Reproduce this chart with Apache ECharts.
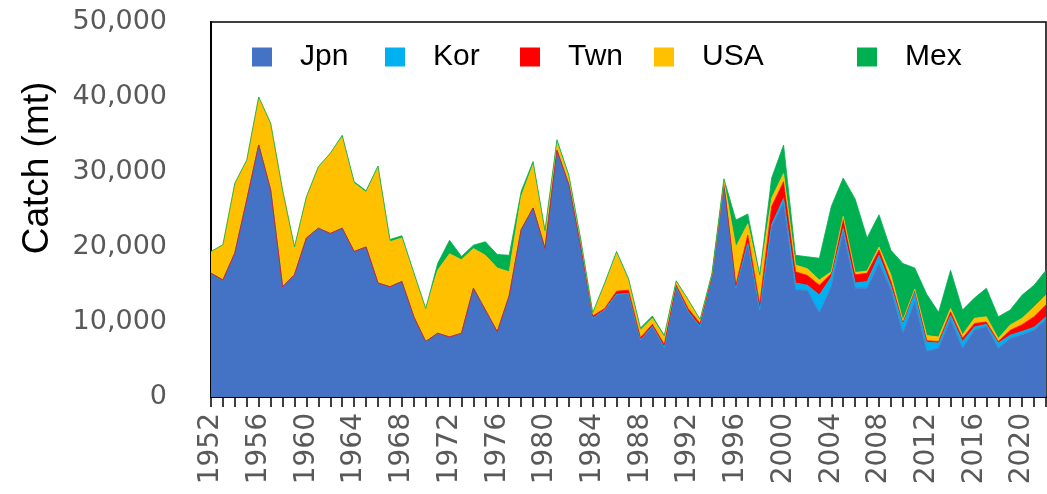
<!DOCTYPE html>
<html>
<head>
    <meta charset="utf-8">
    <title>Catch by fleet</title>
    <script src="https://cdn.jsdelivr.net/npm/echarts@6/dist/echarts.min.js"></script>
    <style>
        html, body { margin: 0; padding: 0; background: #fff; }
        #chart { width: 1047px; height: 494px; }
    </style>
</head>
<body>
<div id="chart"></div>
<script>
// years 1952 - 2022
var years = [];
for (var y = 1952; y <= 2022; y++) years.push(String(y));

// catch in metric tons
var jpn = [16500, 15600, 19200, 26300, 33600, 27600, 14700, 16300, 21200, 22500,
           21800, 22500, 19400, 20000, 15200, 14700, 15400, 10700, 7400, 8500,
           8000, 8500, 14500, 11600, 8700, 13500, 22300, 25200, 19800, 32900,
           28300, 20000, 10500, 11600, 13600, 13800, 7600, 9400, 6600, 14700,
           11400, 9400, 16000, 28300, 14500, 20500, 11600, 22700, 25800, 14300,
           14200, 11200, 14700, 22000, 14500, 14500, 17800, 14300, 8500, 12700,
           6100, 6500, 10300, 6500, 8900, 9400, 6500, 7800, 8300, 8900,
           10300];
var kor = [0, 0, 0, 0, 0, 0, 0, 0, 0, 0,
           0, 0, 0, 0, 0, 0, 0, 0, 0, 0,
           0, 0, 0, 0, 0, 0, 0, 0, 0, 0,
           0, 0, 0, 0, 100, 0, 0, 0, 0, 0,
           0, 0, 0, 0, 0, 0, 0, 300, 700, 900,
           700, 2400, 1300, 500, 700, 900, 1100, 500, 1300, 1300,
           1200, 700, 600, 900, 450, 300, 700, 450, 450, 400,
           400];
var twn = [0, 0, 0, 0, 0, 0, 0, 0, 0, 0,
           0, 0, 0, 0, 0, 0, 0, 0, 0, 0,
           0, 0, 0, 0, 0, 0, 0, 0, 0, 0,
           0, 0, 300, 200, 400, 450, 300, 300, 400, 200,
           400, 400, 100, 100, 400, 1100, 700, 2400, 2200, 1500,
           1300, 1300, 450, 1300, 1100, 1100, 700, 600, 200, 200,
           200, 200, 450, 450, 450, 300, 200, 650, 900, 1400,
           1600];
var usa = [2900, 4700, 9300, 5300, 6400, 8900, 12900, 3700, 5500, 8200,
           10700, 12200, 9100, 7300, 15500, 6000, 5800, 5800, 4400, 8400,
           11100, 9800, 5300, 7300, 8500, 3200, 4400, 5800, 2200, 1100,
           1100, 800, 350, 3200, 5100, 1350, 1000, 800, 1000, 500,
           1100, 450, 300, 400, 5100, 1500, 3700, 1100, 1100, 900,
           900, 700, 250, 300, 300, 300, 400, 870, 200, 200,
           700, 600, 450, 450, 700, 700, 400, 700, 850, 1300,
           1300];
var mex = [0, 0, 0, 0, 0, 0, 0, 0, 0, 0,
           0, 200, 200, 200, 100, 300, 300, 100, 0, 900,
           1800, 450, 450, 1800, 1800, 2200, 700, 400, 200, 300,
           200, 200, 100, 200, 200, 200, 300, 300, 200, 100,
           100, 100, 100, 300, 3600, 1300, 300, 2700, 3800, 1300,
           1600, 2900, 8700, 5100, 9800, 4400, 4300, 3300, 7600, 2800,
           5500, 3300, 5100, 3300, 2700, 3800, 2900, 2000, 3100, 2900,
           3300];

var yTicks = [0, 10000, 20000, 30000, 40000, 50000];

var names = ['Jpn', 'Kor', 'Twn', 'USA', 'Mex'];
var colors = ['#4472C4', '#00B0F0', '#FF0000', '#FFC000', '#00B050'];
var values = [jpn, kor, twn, usa, mex];
var legendLeft = [252, 385, 520, 654, 857];

var chart = echarts.init(document.getElementById('chart'));

var series = names.map(function (n, i) {
    return {
        name: n,
        type: 'line',
        stack: 'catch',
        data: values[i],
        symbol: 'none',
        lineStyle: { width: 0.8, color: colors[i] },
        itemStyle: { color: colors[i] },
        areaStyle: { color: colors[i], opacity: 1 }
    };
});

var legends = names.map(function (n, i) {
    return {
        data: [n],
        left: legendLeft[i],
        top: 42,
        padding: 0,
        icon: 'rect',
        itemWidth: 20,
        itemHeight: 19,
        selectedMode: false,
        textStyle: {
            fontFamily: 'Liberation Sans, Arial',
            fontSize: 30,
            color: '#000',
            padding: [6, 0, 0, 23]
        }
    };
});

chart.setOption({
    animation: false,
    color: colors,
    grid: {
        left: 211, right: 1, top: 22, bottom: 97,
        show: true, borderColor: '#000', borderWidth: 1.5,
        backgroundColor: 'transparent'
    },
    legend: legends,
    graphic: [{
        type: 'text',
        x: 38,
        y: 168,
        rotation: Math.PI / 2,
        style: {
            text: 'Catch (mt)',
            fontFamily: 'Liberation Sans, Arial',
            fontSize: 37,
            fill: '#000',
            align: 'center',
            verticalAlign: 'middle'
        }
    }],
    xAxis: {
        type: 'category',
        data: years,
        boundaryGap: false,
        axisLine: { lineStyle: { color: '#000', width: 2 } },
        axisTick: { show: true, interval: 0, length: 10, lineStyle: { color: '#000', width: 1.5 } },
        axisLabel: {
            interval: 3,
            rotate: 90,
            margin: 16,
            fontFamily: 'DejaVu Sans',
            fontSize: 28,
            color: '#595959'
        },
        splitLine: { show: false }
    },
    yAxis: {
        type: 'value',
        min: yTicks[0],
        max: yTicks[yTicks.length - 1],
        interval: yTicks[1] - yTicks[0],
        axisLine: { show: true, lineStyle: { color: '#000', width: 2 } },
        axisTick: { show: false },
        splitLine: { show: false },
        axisLabel: {
            margin: 44,
            fontFamily: 'DejaVu Sans',
            fontSize: 27,
            color: '#595959',
            formatter: function (v) { return v.toLocaleString('en-US'); }
        }
    },
    series: series
});
</script>
</body>
</html>
